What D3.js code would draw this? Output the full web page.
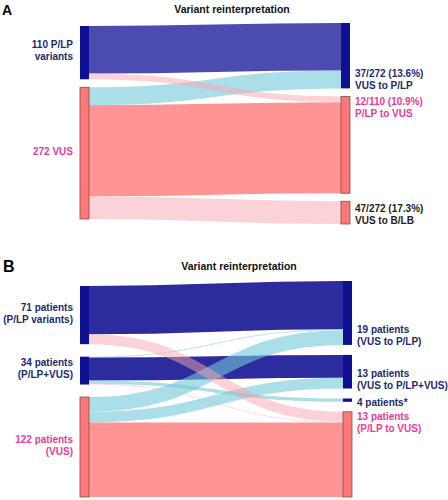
<!DOCTYPE html>
<html>
<head>
<meta charset="utf-8">
<script src="https://cdn.jsdelivr.net/npm/d3@7"></script>
<style>
  body { margin: 0; background: #fff; }
  svg { display: block; font-family: "Liberation Sans", Arial, sans-serif; }
</style>
</head>
<body>
<script>
// panel A : variants
const aSources = ["P/LP", "VUS"];
const aTargets = ["P/LP", "VUS", "B/LB"];
const aFlows = [
  ["P/LP", "P/LP", 98],
  ["P/LP", "VUS", 12],
  ["VUS", "P/LP", 37],
  ["VUS", "VUS", 188],
  ["VUS", "B/LB", 47]
];
const aSourceLabels = [["110 P/LP", "variants"], ["272 VUS"]];
const aTargetLabels = [["37/272 (13.6%)", "VUS to P/LP"], ["12/110 (10.9%)", "P/LP to VUS"], ["47/272 (17.3%)", "VUS to B/LB"]];

// panel B : patients
const bSources = ["P/LP", "P/LP+VUS", "VUS"];
const bTargets = ["P/LP", "P/LP+VUS", "other", "VUS"];
const bFlows = [
  ["P/LP", "P/LP", 59],
  ["P/LP", "VUS", 12],
  ["P/LP+VUS", "P/LP", 1],
  ["P/LP+VUS", "P/LP+VUS", 28],
  ["P/LP+VUS", "other", 4],
  ["P/LP+VUS", "VUS", 1],
  ["VUS", "P/LP", 18],
  ["VUS", "P/LP+VUS", 13],
  ["VUS", "VUS", 91]
];
const bSourceLabels = [["71 patients", "(P/LP variants)"], ["34 patients", "(P/LP+VUS)"], ["122 patients", "(VUS)"]];
const bTargetLabels = [["19 patients", "(VUS to P/LP)"], ["13 patients", "(VUS to P/LP+VUS)"], ["4 patients*"], ["13 patients", "(P/LP to VUS)"]];

const title = "Variant reinterpretation";

const svg = d3.select("body").append("svg")
  .attr("width", 448)
  .attr("height", 500);

const navy = "#0f0f91", salmon = "#ff7777";
const textColor = { "VUS": "#e83c96", "B/LB": "#222" };
const lineH = 12;

function kind(f) {
  if (f[0] === f[1]) return f[0] === "VUS" ? "vus" : "kept";
  if (f[1] === "VUS" || f[1] === "B/LB") return "down";
  return "up";
}

function drawPanel(cfg) {
  const { sources, targets, flows, sourceLabels, targetLabels, left, right, gap, xs, dark, place } = cfg;
  const nodeW = 9;

  const srcVal = sources.map(s => d3.sum(flows.filter(f => f[0] === s), f => f[2]));
  const tgtVal = targets.map(t => d3.sum(flows.filter(f => f[1] === t), f => f[2]));
  const total = d3.sum(srcVal);
  const k = Math.min(
    (left[1] - left[0] - gap * (sources.length - 1)) / total,
    (right[1] - right[0] - gap * (targets.length - 1)) / total);
  const h = d3.scaleLinear().domain([0, total]).range([0, total * k]);

  function stack(names, vals, ext) {
    const free = ext[1] - ext[0] - h(d3.sum(vals));
    const g = names.length > 1 ? free / (names.length - 1) : 0;
    let y = ext[0];
    return names.map((n, i) => {
      const node = { name: n, i, y0: y, y1: y + h(vals[i]) };
      y = node.y1 + g;
      return node;
    });
  }
  const srcNodes = stack(sources, srcVal, left);
  const tgtNodes = stack(targets, tgtVal, right);

  const links = flows.map(f => ({
    s: srcNodes[sources.indexOf(f[0])],
    t: tgtNodes[targets.indexOf(f[1])],
    kind: kind(f),
    w: h(f[2])
  }));
  srcNodes.forEach(n => {
    let y = n.y0;
    links.filter(l => l.s === n).sort((a, b) => a.t.i - b.t.i)
      .forEach(l => { l.ys = y + l.w / 2; y += l.w; });
  });
  tgtNodes.forEach(n => {
    let y = n.y0;
    links.filter(l => l.t === n).sort((a, b) => a.s.i - b.s.i)
      .forEach(l => { l.yt = y + l.w / 2; y += l.w; });
  });

  const color = {
    kept: dark,
    vus: "#ff9494",
    up: "rgba(113,200,217,0.6)",
    down: "rgba(248,166,175,0.5)"
  };
  const order = ["kept", "vus", "up", "down"];
  links.sort((a, b) => order.indexOf(a.kind) - order.indexOf(b.kind));

  const linkPath = d3.linkHorizontal()
    .source(l => [xs[0] + nodeW, l.ys])
    .target(l => [xs[1], l.yt]);

  svg.append("g").selectAll("path")
    .data(links)
    .enter().append("path")
    .attr("d", linkPath)
    .attr("fill", "none")
    .attr("stroke", l => color[l.kind])
    .attr("stroke-width", l => l.w);

  const isPink = n => n === "VUS" || n === "B/LB";
  [[srcNodes, xs[0]], [tgtNodes, xs[1]]].forEach(([nodes, x]) => {
    svg.append("g").selectAll("rect")
      .data(nodes)
      .enter().append("rect")
      .attr("x", x)
      .attr("y", d => d.y0)
      .attr("width", nodeW)
      .attr("height", d => Math.max(d.y1 - d.y0, 1))
      .attr("fill", d => isPink(d.name) ? salmon : navy)
      .attr("stroke", d => isPink(d.name) ? "#7d5050" : "none")
      .attr("stroke-width", 0.8);
  });

  function labels(nodes, texts, x, anchor, where) {
    nodes.forEach((n, i) => {
      const lines = texts[i];
      const pos = where ? where[i] : "middle";
      let first;
      if (pos === "top") first = n.y0 + 5;
      else if (pos === "bottom") first = n.y1 - 3 - (lines.length - 1) * lineH;
      else first = (n.y0 + n.y1) / 2 + (where ? 2 : -2) - (lines.length - 1) * lineH / 2;
      const t = svg.append("text")
        .attr("x", x)
        .attr("text-anchor", anchor)
        .attr("font-size", 10)
        .attr("font-weight", "bold")
        .attr("fill", textColor[n.name] || "#1e2a6e");
      lines.forEach((s, j) => {
        t.append("tspan").attr("x", x).attr("y", first + j * lineH).attr("dy", "0.35em").text(s);
      });
    });
  }
  labels(srcNodes, sourceLabels, xs[0] - 7, "end", null);
  labels(tgtNodes, targetLabels, xs[1] + nodeW + 5, "start", place);

  svg.append("text")
    .attr("x", cfg.letterPos[0]).attr("y", cfg.letterPos[1])
    .attr("font-size", cfg.letterSize).attr("font-weight", "bold")
    .text(cfg.letter);
  svg.append("text")
    .attr("x", cfg.titlePos[0]).attr("y", cfg.titlePos[1])
    .attr("text-anchor", "middle")
    .attr("font-size", 10.5).attr("font-weight", "bold")
    .attr("fill", "#111")
    .text(title);
}

drawPanel({
  sources: aSources, targets: aTargets, flows: aFlows,
  sourceLabels: aSourceLabels, targetLabels: aTargetLabels,
  left: [26, 219], right: [23, 224], gap: 8, xs: [80, 341],
  dark: "#4c4cb0", place: ["bottom", "top", "middle"],
  letter: "A", letterPos: [2, 15], letterSize: 14, titlePos: [232, 13]
});

drawPanel({
  sources: bSources, targets: bTargets, flows: bFlows,
  sourceLabels: bSourceLabels, targetLabels: bTargetLabels,
  left: [286, 497], right: [281, 497], gap: 10, xs: [80, 343],
  dark: "#2c2c9e", place: ["bottom", "bottom", "middle", "top"],
  letter: "B", letterPos: [3, 272], letterSize: 16, titlePos: [239, 270]
});
</script>
</body>
</html>
